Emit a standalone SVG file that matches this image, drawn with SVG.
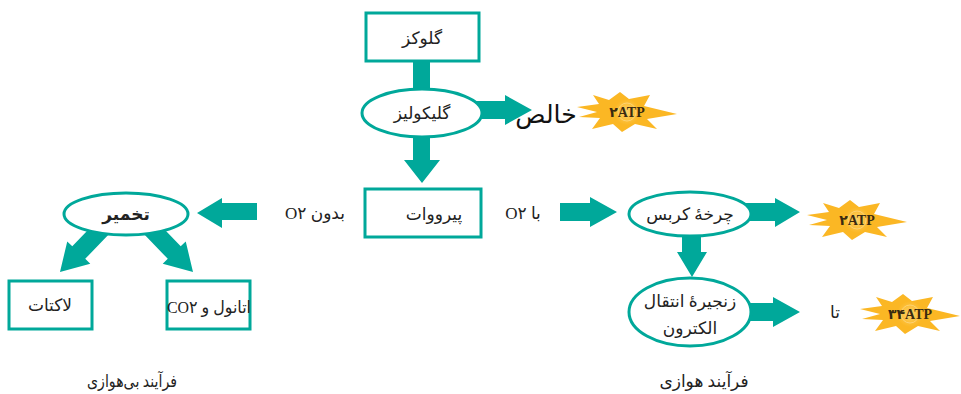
<svg xmlns="http://www.w3.org/2000/svg" width="961" height="394" viewBox="0 0 961 394">
<style>
.box{fill:#fff;stroke:#00A89A;stroke-width:3}
.ell{fill:#fff;stroke:#00A89A;stroke-width:3}
.arr{fill:#00A89A}
.t{font-family:"Liberation Serif","DejaVu Sans",serif;font-size:17px;fill:#222;text-anchor:middle;direction:rtl}
.b{font-weight:bold}
.atp{font-family:"Liberation Serif","DejaVu Sans",serif;font-size:14px;font-weight:bold;fill:#3a2a10;text-anchor:middle}
</style>
<defs>
<radialGradient id="glow" cx="0.5" cy="0.5" r="0.5">
<stop offset="0" stop-color="#FDD77A"/>
<stop offset="0.6" stop-color="#FCC445"/>
<stop offset="1" stop-color="#FBB724"/>
</radialGradient>
<g id="star">
<polygon points="-50,-5 -28,-8 -34,-17 -18,-12 -7,-20 2,-13 23,-17 17,-6 50,2 20,7 30,17 8,12 -5,20 -14,12 -35,17 -27,6 -48,5 -30,0" fill="#FBB724"/>
<circle r="13" fill="url(#glow)" opacity="0.8"/>
<circle r="9" fill="none" stroke="#FDE0A0" stroke-width="0.8" opacity="0.7"/>
</g>
</defs>

<g id="connectors">
<rect class="arr" x="413" y="58" width="17" height="34"/>
<path class="arr" d="M475,101 H505 V95 L532,110 L505,125 V119 H475 Z"/>
<path class="arr" d="M413,132 V160 H404 L422,183 L440,160 H430 V132 Z"/>
<path class="arr" d="M257,203 V220 H222 V228 L197,213 L222,198 V203 Z"/>
<path class="arr" d="M560,203 H590 V197 L617,212 L590,227 V221 H560 Z"/>
<path class="arr" d="M745,203 H775 V198 L800,212 L775,227 V221 H745 Z"/>
<path class="arr" d="M682,234 V252 H677 L692,277 L707,252 H701 V234 Z"/>
<path class="arr" d="M745,303 H773 V297 L800,312 L773,327 V321 H745 Z"/>
<path class="arr" transform="translate(60,272) rotate(134)" d="M-60,-9 H-27 V-16 L0,0 L-27,16 V9 H-60 Z"/>
<path class="arr" transform="translate(193,272) rotate(46)" d="M-60,-9 H-27 V-16 L0,0 L-27,16 V9 H-60 Z"/>
</g>

<g id="glucose">
<rect class="box" x="366" y="13" width="113" height="48"/>
<text class="t" x="422" y="44">گلوکز</text>
</g>
<g id="glycolysis">
<ellipse class="ell" cx="422" cy="113" rx="60" ry="24"/>
<text class="t" x="422" y="119">گلیکولیز</text>
</g>
<g id="net">
<text class="t" x="546" y="123" style="font-size:25px;fill:#111">خالص</text>
</g>
<g id="atp1">
<use href="#star" x="627" y="112"/>
<text class="atp" x="627" y="117">۲ATP</text>
</g>
<g id="pyruvate">
<rect class="box" x="365" y="189" width="116" height="48"/>
<text class="t" x="434" y="220">پیرووات</text>
</g>
<text class="t" x="315" y="219">بدون O۲</text>
<text class="t" x="523" y="219">با O۲</text>

<g id="fermentation">
<ellipse class="ell" cx="126" cy="214" rx="62" ry="21"/>
<text class="t b" x="126" y="220">تخمیر</text>
</g>
<g id="lactate">
<rect class="box" x="9" y="281" width="83" height="48"/>
<text class="t" x="50" y="311">لاکتات</text>
</g>
<g id="ethanol">
<rect class="box" x="167" y="281" width="83" height="48"/>
<text class="t" x="209" y="313" textLength="84" lengthAdjust="spacingAndGlyphs">اتانول و CO۲</text>
</g>
<text class="t" x="132" y="387" textLength="90" lengthAdjust="spacingAndGlyphs">فرآیند بی‌هوازی</text>

<g id="krebs">
<ellipse class="ell" cx="690" cy="214" rx="61" ry="22"/>
<text class="t" x="690" y="220">چرخهٔ کربس</text>
</g>
<g id="atp2">
<use href="#star" x="857" y="220"/>
<text class="atp" x="857" y="225">۲ATP</text>
</g>
<g id="etc">
<ellipse class="ell" cx="690" cy="312" rx="61" ry="34"/>
<text class="t" x="690" y="307">زنجیرهٔ انتقال</text>
<text class="t" x="690" y="334">الکترون</text>
</g>
<text class="t" x="835" y="318">تا</text>
<g id="atp3">
<use href="#star" x="910" y="314"/>
<text class="atp" x="910" y="319">۳۴ATP</text>
</g>
<text class="t" x="704" y="387">فرآیند هوازی</text>
</svg>
